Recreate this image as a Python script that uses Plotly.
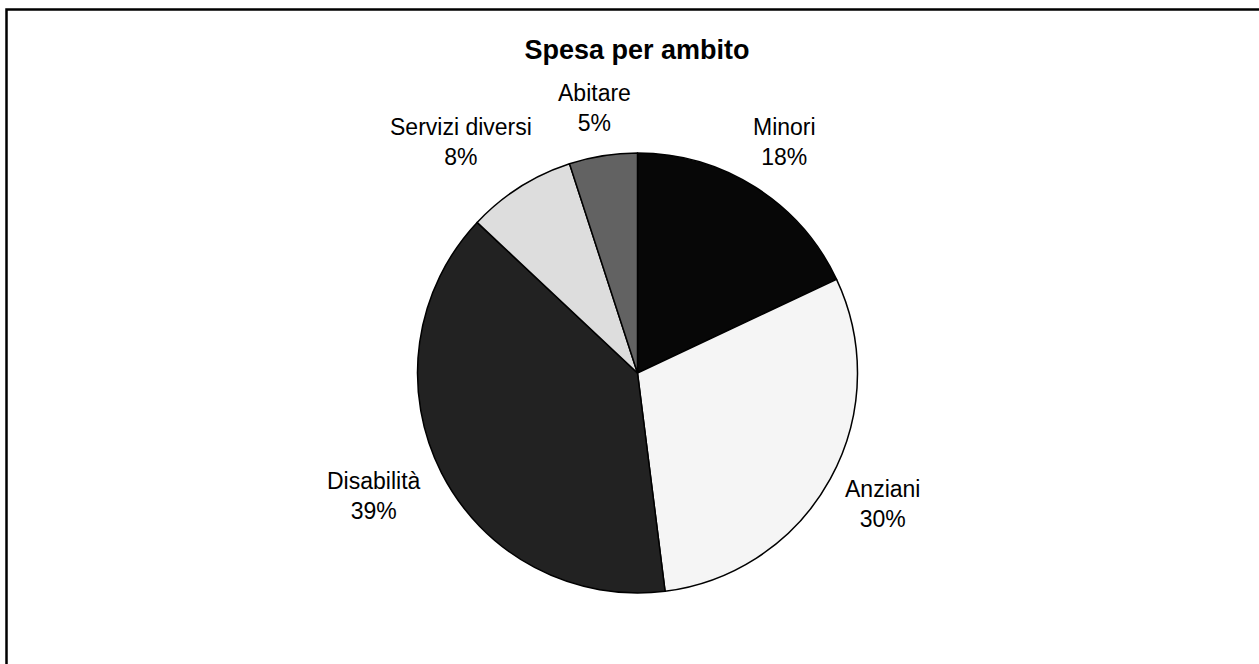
import math
import plotly.graph_objects as go

# ---- data ----
categories = ["Minori", "Anziani", "Disabilità", "Servizi diversi", "Abitare"]
values = [18, 30, 39, 8, 5]
colors = ["#070707", "#f5f5f5", "#222222", "#dddddd", "#626262"]
title_text = "Spesa per ambito"

# ---- geometry (pixels) ----
W, H = 1259, 664
CX, CY, R = 637.5, 373, 220
GAP = 18
LABEL_FONT = 23
TITLE_FONT = 27
LINE_H = 1.3

def px2paper(x, y):
    return x / W, 1 - y / H

fig = go.Figure()
x0, y1 = px2paper(CX - R, CY - R)
x1, y0 = px2paper(CX + R, CY + R)
fig.add_trace(go.Pie(
    labels=categories, values=values, sort=False, direction="clockwise", rotation=0,
    marker=dict(colors=colors, line=dict(color="#000000", width=1.5)),
    textinfo="none", hoverinfo="label+percent", showlegend=False,
    domain=dict(x=[x0, x1], y=[y0, y1]),
))

total = sum(values)
cum = 0
annotations = []
for cat, v in zip(categories, values):
    mid = (cum + v / 2) / total * 2 * math.pi
    cum += v
    s, c = math.sin(mid), math.cos(mid)
    pct = round(v / total * 100)
    lines = [cat, f"{pct}%"]
    hw = max(len(t) for t in lines) * 0.45 * LABEL_FONT / 2
    hh = len(lines) * LINE_H * LABEL_FONT / 2
    m = max(abs(s), abs(c))
    px = CX + (R + GAP) * s + hw * s / m
    py = CY - (R + GAP) * c - hh * c / m
    ax, ay = px2paper(px, py)
    annotations.append(dict(
        x=ax, y=ay, xref="paper", yref="paper", xanchor="center", yanchor="middle",
        text="<br>".join(lines), showarrow=False, align="center",
        font=dict(family="Liberation Sans, Arial, sans-serif", size=LABEL_FONT, color="#000000"),
    ))

tx, ty = px2paper(637, 50)
fig.update_layout(
    width=W, height=H, margin=dict(l=0, r=0, t=0, b=0),
    paper_bgcolor="#ffffff", plot_bgcolor="#ffffff",
    title=dict(text=f"<b>{title_text}</b>", x=tx, y=ty, xanchor="center", yanchor="middle",
               font=dict(family="Liberation Sans, Arial, sans-serif", size=TITLE_FONT, color="#000000")),
    annotations=annotations,
    shapes=[dict(type="rect", xref="paper", yref="paper",
                 x0=6.5 / W, x1=1.02, y0=-0.02, y1=1 - 9.5 / H,
                 line=dict(color="#000000", width=2.5))],
)

fig.write_html("out.html", config={"displayModeBar": False},
               post_script="document.body.style.margin='0';document.body.style.overflow='hidden';")
